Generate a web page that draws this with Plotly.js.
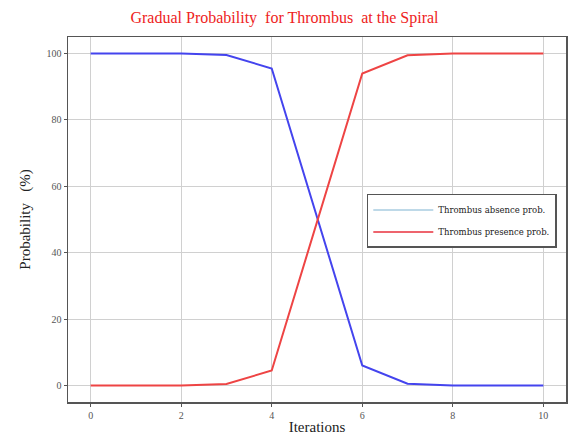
<!DOCTYPE html>
<html>
<head>
<meta charset="utf-8">
<script src="https://cdn.plot.ly/plotly-3.0.1.min.js"></script>
<style>html,body{margin:0;padding:0;background:#fff;}#chart{width:569px;height:436px;}</style>
</head>
<body>
<div id="chart"></div>
<script>
const iterations = [0, 1, 2, 3, 4, 6, 7, 8, 9, 10];
const absenceProb = [100, 100, 100, 99.6, 95.5, 6, 0.5, 0, 0, 0];
const presenceProb = [0, 0, 0, 0.4, 4.5, 94, 99.5, 100, 100, 100];
const seriesNames = ["Thrombus absence prob.", "Thrombus presence prob."];
const xTicks = [0, 2, 4, 6, 8, 10];
const yTicks = [0, 20, 40, 60, 80, 100];

const serif = "Liberation Serif, Times New Roman, serif";
const traces = [
  {x: iterations, y: absenceProb, mode: "lines", line: {color: "#4444ee", width: 2}, showlegend: false, hoverinfo: "skip"},
  {x: iterations, y: presenceProb, mode: "lines", line: {color: "#ee4444", width: 2}, showlegend: false, hoverinfo: "skip"},
  {x: [null], y: [null], mode: "lines", name: seriesNames[0], legendgroup: "a", line: {color: "#a8cce0", width: 1.5}},
  {x: [null], y: [null], mode: "lines", name: seriesNames[1], legendgroup: "b", line: {color: "#e8303c", width: 1.5}}
];
const axisCommon = {
  showgrid: true, gridcolor: "#d0d0d0", gridwidth: 1, zeroline: false,
  showline: true, mirror: true, linecolor: "#555", linewidth: 1.5,
  ticks: "outside", ticklen: 3, tickcolor: "#555",
  tickfont: {family: serif, size: 10, color: "#555"}
};
const layout = {
  width: 569, height: 436,
  margin: {l: 68, r: 3, t: 37, b: 34},
  paper_bgcolor: "#fff", plot_bgcolor: "#fff",
  title: {text: "Gradual Probability  for Thrombus  at the Spiral", font: {family: serif, size: 16, color: "#ee2222"}, x: 0.5, xanchor: "center", y: 0.96, yanchor: "middle"},
  xaxis: Object.assign({}, axisCommon, {range: [-0.5, 10.5], tickvals: xTicks, title: {text: "Iterations", font: {family: serif, size: 15, color: "#222"}, standoff: 2}}),
  yaxis: Object.assign({}, axisCommon, {range: [-5, 105], tickvals: yTicks, title: {text: "Probability   (%)", font: {family: serif, size: 15, color: "#222"}, standoff: 12}}),
  legend: {x: 0.6, y: 0.57, xanchor: "left", yanchor: "top", bordercolor: "#555", borderwidth: 1.5, bgcolor: "#fff",
    font: {family: "DejaVu Serif, serif", size: 8.5, color: "#222"}, tracegroupgap: 3, itemwidth: 60},
  showlegend: true
};
Plotly.newPlot("chart", traces, layout, {displayModeBar: false, staticPlot: true});
</script>
</body>
</html>
